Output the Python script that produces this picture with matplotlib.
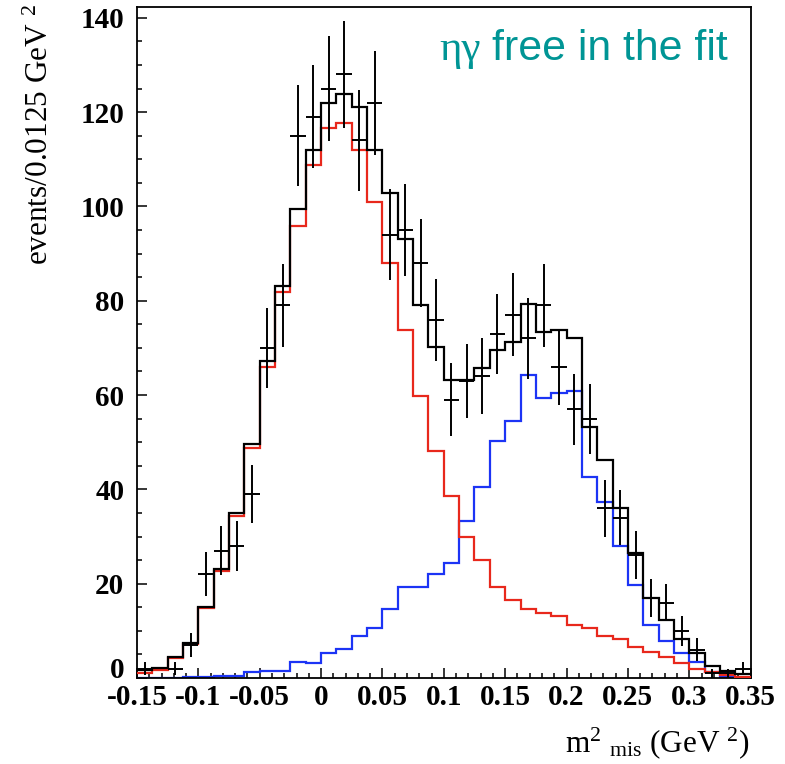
import numpy as np
import matplotlib
matplotlib.use("Agg")
import matplotlib.pyplot as plt
import matplotlib.transforms as mtransforms
from matplotlib.ticker import MultipleLocator, FixedLocator

# ---- data (40 bins of 0.0125 GeV^2 from -0.15 to 0.35) ----
x_min = -0.15
x_max = 0.35
n_bins = 40

data_counts = [2, 0, 2, 7, 22, 27, 28, 39, 70, 79,
               115, 119, 125, 128, 114, 122, 94, 95, 88, 76,
               59, 63, 64, 73, 77, 72, 79, 66, 57, 55,
               36, 34, 26, 17, 16, 10, 6, 1, 1, 2]
data_errors = [1.4, 0.0, 1.4, 2.6, 4.7, 5.2, 5.3, 6.2, 8.4, 8.9,
               10.7, 10.9, 11.2, 11.3, 10.7, 11.0, 9.7, 9.7, 9.4, 8.7,
               7.7, 7.9, 8.0, 8.5, 8.8, 8.5, 8.9, 8.1, 7.5, 7.4,
               6.0, 5.8, 5.1, 4.1, 4.0, 3.2, 2.4, 1.0, 1.0, 1.4]

total_fit = [1.6, 2.1, 4.4, 7.4, 15.0, 23.1, 34.9, 49.6, 67.2, 83.2,
             99.4, 111.9, 121.9, 123.8, 121.0, 112.0, 102.8, 93.0, 79.1, 70.3,
             63.1, 63.3, 65.7, 69.6, 71.3, 79.3, 73.3, 73.7, 72.1, 53.3,
             46.2, 36.1, 26.6, 16.9, 12.3, 8.2, 5.4, 2.6, 1.4, 0.85]

red_component = [1.1, 1.8, 4.2, 7.2, 14.8, 22.6, 34.4, 48.8, 66.0, 81.8,
                 95.9, 108.7, 116.6, 117.6, 111.9, 101.0, 88.0, 73.8, 59.9, 48.2,
                 38.7, 29.8, 25.0, 19.2, 16.5, 14.6, 13.8, 13.1, 11.3, 10.5,
                 8.9, 8.3, 6.6, 5.6, 4.5, 3.2, 2.0, 1.2, 0.7, 0.3]

blue_component = [0.0, 0.0, 0.1, 0.2, 0.2, 0.5, 0.5, 1.2, 1.4, 1.4,
                  3.4, 3.1, 5.2, 6.2, 9.0, 10.7, 14.6, 19.2, 19.2, 22.0,
                  24.3, 33.4, 40.6, 50.3, 54.6, 64.3, 59.3, 60.4, 60.8, 42.7,
                  37.3, 27.9, 19.7, 11.2, 7.8, 5.2, 3.3, 1.3, 0.3, 0.1]

x_ticks = [-0.15, -0.1, -0.05, 0, 0.05, 0.1, 0.15, 0.2, 0.25, 0.3, 0.35]
x_tick_labels = ["-0.15", "-0.1", "-0.05", "0", "0.05", "0.1", "0.15", "0.2", "0.25", "0.3", "0.35"]
y_ticks = [0, 20, 40, 60, 80, 100, 120, 140]

edges = np.linspace(x_min, x_max, n_bins + 1)
centers = 0.5 * (edges[:-1] + edges[1:])
half_w = 0.5 * (edges[1] - edges[0])

# ---- figure ----
W, H = 785, 764
fig = plt.figure(figsize=(W / 100, H / 100), dpi=100)
ax = fig.add_axes([137 / W, 1 - 678 / H, (750.6 - 137) / W, (678 - 7) / H])

serif = ["Liberation Serif", "DejaVu Serif"]
plt.rcParams["mathtext.fontset"] = "custom"
plt.rcParams["mathtext.rm"] = "Liberation Serif"
plt.rcParams["mathtext.it"] = "Liberation Serif:italic"

red = "#e8281c"
blue = "#1c34f5"

ax.stairs(blue_component, edges, baseline=None, color=blue, lw=1.6, zorder=2)
ax.stairs(red_component, edges, baseline=None, color=red, lw=1.6, zorder=3)
ax.stairs(total_fit, edges, baseline=None, color="black", lw=1.6, zorder=4)

dc = np.array(data_counts, dtype=float)
de = np.array(data_errors, dtype=float)
mask = dc > 0
ax.errorbar(centers[mask], dc[mask], yerr=de[mask], xerr=half_w,
            fmt="none", ecolor="black", elinewidth=1.4, capsize=0, zorder=5)

ax.set_xlim(x_min, x_max)
ax.set_ylim(0, 142.3)

ax.xaxis.set_major_locator(FixedLocator(x_ticks))
ax.set_xticklabels(x_tick_labels)
ax.xaxis.set_minor_locator(MultipleLocator(0.01))
ax.yaxis.set_major_locator(FixedLocator(y_ticks))
ax.yaxis.set_minor_locator(MultipleLocator(5))

ax.tick_params(axis="both", which="both", direction="in", top=False, right=False, color="black")
ax.tick_params(axis="both", which="major", length=7.5, width=1.1)
ax.tick_params(axis="both", which="minor", length=3.8, width=1.1)
ax.tick_params(axis="x", which="major", pad=4.5)
ax.tick_params(axis="y", which="major", pad=9)
for lab in ax.get_xticklabels() + ax.get_yticklabels():
    lab.set_fontfamily(serif)
    lab.set_fontweight("bold")
    lab.set_fontsize(21)

# lift the y-axis "0" label so it does not collide with "-0.15"
ylabs = ax.get_yticklabels()
ylabs[0].set_transform(ylabs[0].get_transform() +
                       mtransforms.ScaledTranslation(0, 11 / 100, fig.dpi_scale_trans))

for sp in ax.spines.values():
    sp.set_linewidth(1.3)

# axis titles
fig.text(750 / W, 1 - 752 / H, r"m$^{2}$ $_{\rm mis}$ (GeV $^{2}$)", ha="right", va="baseline",
         fontsize=22.5, family=serif)
fig.text(40 / W, 1 - 4 / H, r"events/0.0125 GeV $^{2}$", rotation=90, ha="center", va="top",
         fontsize=22.5, family=serif)

teal = "#009595"
fig.text(481 / W, 1 - 60 / H, "ηγ", ha="right", va="baseline", fontsize=31, color=teal,
         family=serif)
fig.text(492 / W, 1 - 60 / H, "free in the fit", ha="left", va="baseline", fontsize=30.8,
         color=teal, family=["Liberation Sans", "DejaVu Sans"])

fig.savefig("out.png", dpi=100)
